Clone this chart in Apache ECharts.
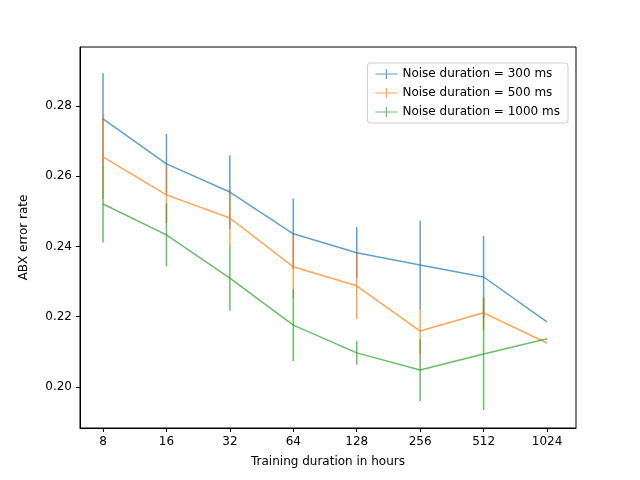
<!DOCTYPE html>
<html>
<head>
<meta charset="UTF-8" />
<script src="https://cdn.jsdelivr.net/npm/echarts@6/dist/echarts.min.js"></script>
<style>body{margin:0}#main{width:640px;height:480px}</style>
</head>
<body>
<div id="main"></div>
<script>
var hours = [8, 16, 32, 64, 128, 256, 512, 1024];
var yTicks = [0.20, 0.22, 0.24, 0.26, 0.28];
var names = ["Noise duration = 300 ms", "Noise duration = 500 ms", "Noise duration = 1000 ms"];
var colors = ["#1f77b4", "#ff7f0e", "#2ca02c"];
var mean300 = [0.2763, 0.2635, 0.2555, 0.2436, 0.2382, 0.2347, 0.2313, 0.2185];
var err300 = [0.013, 0.0085, 0.0105, 0.01, 0.0073, 0.0126, 0.0117, 0];
var mean500 = [0.2655, 0.2547, 0.2481, 0.2342, 0.2288, 0.2159, 0.2211, 0.2125];
var err500 = [0.012, 0.008, 0.008, 0.009, 0.0095, 0.0065, 0.005, 0];
var mean1000 = [0.2521, 0.2433, 0.2310, 0.2176, 0.2097, 0.2048, 0.2094, 0.2137];
var err1000 = [0.011, 0.009, 0.0093, 0.0102, 0.0034, 0.0088, 0.016, 0];

var means = [mean300, mean500, mean1000];
var errs = [err300, err500, err1000];
var font = "DejaVu Sans";
var xTicks = hours.map(function (h) { return Math.log2(h); });
var series = [];
means.forEach(function (m, k) {
  series.push({
    name: names[k], type: "line", symbol: "none",
    data: hours.map(function (h, i) { return [Math.log2(h), m[i]]; }),
    lineStyle: { color: colors[k], width: 1.5, opacity: 0.7 },
    itemStyle: { color: colors[k], opacity: 0.7 }, z: 3
  });
  series.push({
    name: names[k], type: "custom",
    data: hours.map(function (h, i) { return [Math.log2(h), m[i] - errs[k][i], m[i] + errs[k][i]]; }),
    renderItem: function (params, api) {
      var lo = api.coord([api.value(0), api.value(1)]);
      var hi = api.coord([api.value(0), api.value(2)]);
      return { type: "line", shape: { x1: lo[0], y1: lo[1], x2: hi[0], y2: hi[1] },
        style: { stroke: colors[k], lineWidth: 1.5, opacity: 0.7 } };
    }, z: 2
  });
});

var chart = echarts.init(document.getElementById("main"));
chart.setOption({
  animation: false,
  grid: { left: 80, right: 64, top: 47, bottom: 52, show: true, borderColor: "#000", borderWidth: 1 },
  legend: {
    data: names, orient: "vertical", right: 72, top: 63, itemGap: 7,
    itemWidth: 22, itemHeight: 10, icon: "path://M0,4.4H22V5.6H0Z M10.4,0H11.6V10H10.4Z",
    textStyle: { fontFamily: font, fontSize: 12, color: "#000" },
    backgroundColor: "#fff", borderColor: "#ccc", borderWidth: 1, borderRadius: 3, padding: [5, 8]
  },
  xAxis: {
    type: "value", min: 2.637, max: 10.457,
    name: "Training duration in hours", nameLocation: "middle", nameGap: 28,
    nameTextStyle: { fontFamily: font, fontSize: 12, color: "#000" },
    axisLine: { lineStyle: { color: "#000" } },
    axisTick: { show: true, length: 4, customValues: xTicks, lineStyle: { color: "#000" } },
    axisLabel: { fontFamily: font, fontSize: 12, color: "#000", customValues: xTicks,
      formatter: function (v) { return String(Math.round(Math.pow(2, v))); } },
    splitLine: { show: false }
  },
  yAxis: {
    type: "value", min: 0.1883, max: 0.2968,
    name: "ABX error rate", nameLocation: "middle", nameGap: 50,
    nameTextStyle: { fontFamily: font, fontSize: 12, color: "#000" },
    axisLine: { show: true, lineStyle: { color: "#000" } },
    axisTick: { show: true, length: 4, customValues: yTicks, lineStyle: { color: "#000" } },
    axisLabel: { fontFamily: font, fontSize: 12, color: "#000", customValues: yTicks,
      formatter: function (v) { return v.toFixed(2); } },
    splitLine: { show: false }
  },
  series: series
});
</script>
</body>
</html>
